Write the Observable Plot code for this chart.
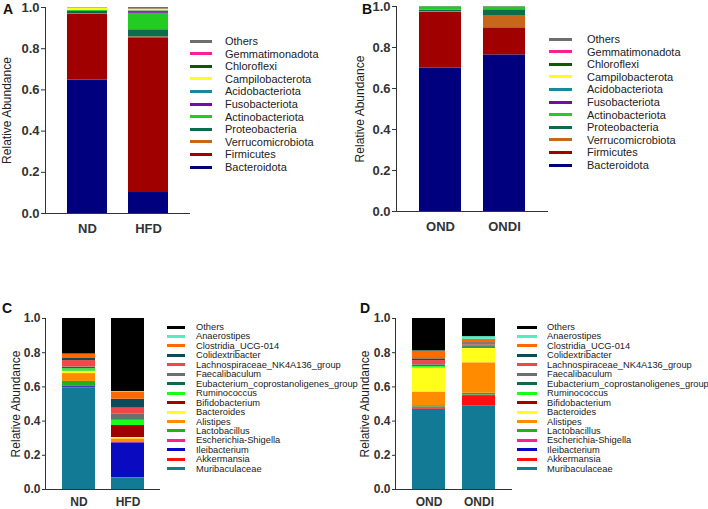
<!DOCTYPE html>
<html><head><meta charset="utf-8">
<script src="https://cdn.jsdelivr.net/npm/d3@7"></script>
<script src="https://cdn.jsdelivr.net/npm/@observablehq/plot@0.6"></script>
<style>
body{margin:0;background:#fff;font-family:"Liberation Sans",Arial,sans-serif}
#fig{position:relative;width:708px;height:509px;overflow:hidden;background:#fff}
.panel{position:absolute}
.plbl{position:absolute;font-weight:bold;font-size:14px;line-height:14px;color:#111}
.legrow{position:absolute;white-space:nowrap;color:#222}
.sw{position:absolute}
</style></head><body><div id="fig"></div>
<script>
// ---------- Data ----------
// Phylum level (bottom -> top of stack)
const phyla = ["Bacteroidota","Firmicutes","Verrucomicrobiota","Proteobacteria","Actinobacteriota","Fusobacteriota","Acidobacteriota","Campilobacterota","Chloroflexi","Gemmatimonadota","Others"];
const phylaColors = ["#00007f","#a00000","#c8661a","#0e6b4c","#22cc22","#7a0aa8","#1a86a0","#ffff1a","#0a5a0a","#ff1f8e","#6e6e6e"];
const groupsA = ["ND","HFD"];
const phylaND  = [0.648,0.318,0.003,0.012,0.005,0.000,0.000,0.012,0.001,0.000,0.001];
const phylaHFD = [0.102,0.751,0.004,0.035,0.080,0.008,0.004,0.008,0.002,0.001,0.005];
const groupsB = ["OND","ONDI"];
const phylaOND  = [0.699,0.273,0.003,0.008,0.015,0.000,0.000,0.000,0.001,0.000,0.001];
const phylaONDI = [0.764,0.132,0.060,0.028,0.013,0.000,0.000,0.000,0.001,0.000,0.002];

// Genus level (bottom -> top of stack)
const genera = ["Muribaculaceae","Akkermansia","Ileibacterium","Escherichia-Shigella","Lactobacillus","Alistipes","Bacteroides","Bifidobacterium","Ruminococcus","Eubacterium_coprostanoligenes_group","Faecalibaculum","Lachnospiraceae_NK4A136_group","Colidextribacter","Clostridia_UCG-014","Anaerostipes","Others"];
const generaColors = ["#127a94","#ff1010","#0a0ac0","#ff1f8e","#22b022","#ff8c00","#ffff1a","#a00000","#1aff1a","#0e6b4c","#6e6e6e","#f04848","#0d4a5c","#ff6a00","#4ff0c0","#000000"];
const genusND  = [0.595,0.003,0.005,0.005,0.024,0.046,0.012,0.002,0.014,0.008,0.003,0.037,0.012,0.024,0.002,0.208];
const genusHFD = [0.068,0.002,0.203,0.002,0.004,0.017,0.008,0.070,0.032,0.008,0.026,0.036,0.052,0.042,0.003,0.427];
const genusOND  = [0.470,0.006,0.002,0.004,0.008,0.080,0.142,0.002,0.006,0.006,0.004,0.024,0.010,0.044,0.002,0.190];
const genusONDI = [0.487,0.061,0.002,0.002,0.011,0.178,0.085,0.004,0.002,0.006,0.008,0.008,0.004,0.020,0.016,0.106];

const yTicks = [0,0.2,0.4,0.6,0.8,1.0];
const yTitle = "Relative Abundance";

// ---------- Build ----------
const fig = document.getElementById("fig");

function tidy(groups, names, seriesList){
  const rows = [];
  groups.forEach((g,gi)=>names.forEach((n,ni)=>rows.push({group:g, taxon:n, value:seriesList[gi][ni]})));
  return rows;
}

function panel(o){
  const rows = tidy(o.groups, o.names, o.series);
  const chart = Plot.plot({
    width:o.width, height:o.height,
    marginLeft:o.ml, marginRight:2, marginTop:o.mt, marginBottom:o.mb,
    style:{fontFamily:"'Liberation Sans', Arial, sans-serif", fontSize:o.tickFont+"px", fontWeight:"bold", color:"#333", background:"transparent"},
    x:{domain:o.groups, padding:o.pad, tickSize:0, tickPadding:o.xpad, label:null},
    y:{domain:[0,1], ticks:yTicks, tickFormat:d3.format(".1f"), tickSize:o.ytick, tickPadding:2, line:true, label:null},
    color:{domain:o.names, range:o.colors},
    marks:[
      Plot.barY(rows, {x:"group", y:"value", fill:"taxon", order:o.names}),
      Plot.ruleY([0], {stroke:"#333"}),
      Plot.text([yTitle], {frameAnchor:"left", textAnchor:"middle", lineAnchor:"middle", rotate:-90, dx:o.titleDx, fontSize:12, fontWeight:"normal", fill:"#222"})
    ]
  });
  const d = document.createElement("div");
  d.className = "panel";
  d.style.left = o.left+"px"; d.style.top = o.top+"px";
  d.appendChild(chart);
  fig.appendChild(d);

  // panel letter
  const L = document.createElement("div");
  L.className = "plbl"; L.textContent = o.letter;
  L.style.left = o.letterX+"px"; L.style.top = o.letterY+"px";
  fig.appendChild(L);

  // legend (top -> bottom = reverse stack order)
  const items = o.names.slice().reverse();
  const cols = o.colors.slice().reverse();
  items.forEach((n,i)=>{
    const cy = o.leg.y0 + i*o.leg.step;
    const s = document.createElement("div");
    s.className = "sw";
    s.style.left = o.leg.sx+"px"; s.style.width = o.leg.sw+"px";
    s.style.top = (cy-1.5)+"px"; s.style.height = "3px";
    s.style.background = cols[i];
    fig.appendChild(s);
    const t = document.createElement("div");
    t.className = "legrow";
    t.textContent = n;
    t.style.left = o.leg.tx+"px";
    t.style.fontSize = o.leg.fs+"px";
    t.style.lineHeight = "14px";
    t.style.top = (cy-7)+"px";
    fig.appendChild(t);
  });
}

panel({letter:"A", letterX:3, letterY:2, left:0, top:0, width:192, height:245, ml:45, mt:7, mb:32,
  groups:groupsA, names:phyla, colors:phylaColors, series:[phylaND, phylaHFD], pad:0.34,
  tickFont:13, ytick:4, xpad:10, titleDx:-38,
  leg:{sx:190, sw:22, tx:225, y0:41, step:12.6, fs:11}});
panel({letter:"B", letterX:362, letterY:2, left:350, top:0, width:200, height:245, ml:46, mt:6, mb:34,
  groups:groupsB, names:phyla, colors:phylaColors, series:[phylaOND, phylaONDI], pad:0.34,
  tickFont:13, ytick:4, xpad:10, titleDx:-36,
  leg:{sx:549, sw:23, tx:587, y0:39, step:12.6, fs:11}});
panel({letter:"C", letterX:2, letterY:301, left:0, top:250, width:162, height:259, ml:45, mt:68, mb:20,
  groups:groupsA, names:genera, colors:generaColors, series:[genusND, genusHFD], pad:0.33,
  tickFont:12, ytick:3, xpad:8, titleDx:-29,
  leg:{sx:167, sw:18, tx:196, y0:327, step:9.45, fs:9.3}});
panel({letter:"D", letterX:360, letterY:301, left:350, top:250, width:164, height:259, ml:45, mt:68, mb:20,
  groups:groupsB, names:genera, colors:generaColors, series:[genusOND, genusONDI], pad:0.34,
  tickFont:12, ytick:3, xpad:8, titleDx:-30,
  leg:{sx:517, sw:20, tx:547, y0:327, step:9.45, fs:9.3}});
</script></body></html>
